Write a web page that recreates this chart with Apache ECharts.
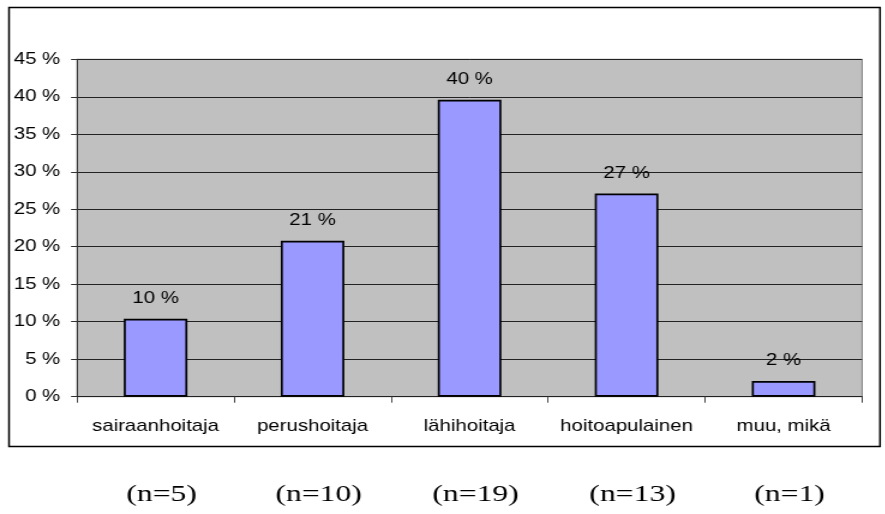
<!DOCTYPE html>
<html>
<head>
<meta charset="utf-8">
<script src="https://cdn.jsdelivr.net/npm/echarts@6/dist/echarts.min.js"></script>
<style>
  html, body { margin: 0; padding: 0; background: #fff; overflow: hidden; }
  /* the chart is laid out narrower and stretched horizontally to its final width */
  #chart { width: 737.5px; height: 514px; transform: scaleX(1.2); transform-origin: 0 0; }
</style>
</head>
<body>
<div id="chart"></div>
<script>
// Occupational groups of respondents
const categories = ['sairaanhoitaja', 'perushoitaja', 'lähihoitaja', 'hoitoapulainen', 'muu, mikä'];
// Share of respondents, percent
const shares = [10.4, 20.8, 39.6, 27.1, 2.1];
// Respondent count per group
const counts = [5, 10, 19, 13, 1];
// Y axis range
const yMax = 45;
const yStep = 5;

const STRETCH = 1.2;
const sansFont = '"Liberation Sans", Arial, sans-serif';

const chart = echarts.init(document.getElementById('chart'), null, { renderer: 'canvas' });

chart.setOption({
  animation: false,
  backgroundColor: '#ffffff',
  grid: {
    left: 64.2, right: 19.6, top: 59.3, bottom: 117.3,
    show: true,
    backgroundColor: '#c0c0c0',
    borderColor: '#808080',
    borderWidth: 1
  },
  xAxis: {
    type: 'category',
    data: categories,
    axisLine: { show: true, lineStyle: { color: '#222', width: 1 } },
    axisTick: { show: true, length: 6, lineStyle: { color: '#444' } },
    axisLabel: { color: '#000', fontSize: 17, fontFamily: sansFont, margin: 21, interval: 0 },
    splitLine: { show: false }
  },
  yAxis: {
    type: 'value',
    min: 0, max: yMax, interval: yStep,
    axisLine: { show: true, lineStyle: { color: '#333', width: 1 } },
    axisTick: { show: true, length: 5, lineStyle: { color: '#333' } },
    axisLabel: { color: '#000', fontSize: 17, fontFamily: sansFont, margin: 14, formatter: '{value} %' },
    splitLine: { show: true, lineStyle: { color: '#222', width: 1 } }
  },
  series: [{
    type: 'bar',
    data: shares,
    barWidth: 53,
    itemStyle: { color: '#9999ff', borderColor: '#000', borderWidth: 1.7 },
    label: {
      show: true, position: 'top', distance: 12,
      color: '#000', fontSize: 17, fontFamily: sansFont,
      formatter: p => Math.round(p.value) + ' %'
    }
  }]
});

// Outer frame and group sizes under the chart
const nLabels = categories.map((c, i) => {
  const cx = chart.convertToPixel({ xAxisIndex: 0 }, c) + 5;
  return {
    type: 'text',
    x: cx, y: 495,
    scaleX: 1.1,
    style: {
      text: '(n=' + counts[i] + ')',
      x: 0, y: 0,
      fill: '#000',
      font: '24px "Liberation Serif", "Times New Roman", serif',
      textAlign: 'center',
      textVerticalAlign: 'middle'
    }
  };
});

chart.setOption({
  graphic: [
    {
      type: 'rect',
      shape: { x: 9 / STRETCH, y: 7.5, width: (880 - 9) / STRETCH, height: 439 },
      style: { fill: 'none', stroke: '#000', lineWidth: 1.5 },
      silent: true
    },
    ...nLabels
  ]
});
</script>
</body>
</html>
